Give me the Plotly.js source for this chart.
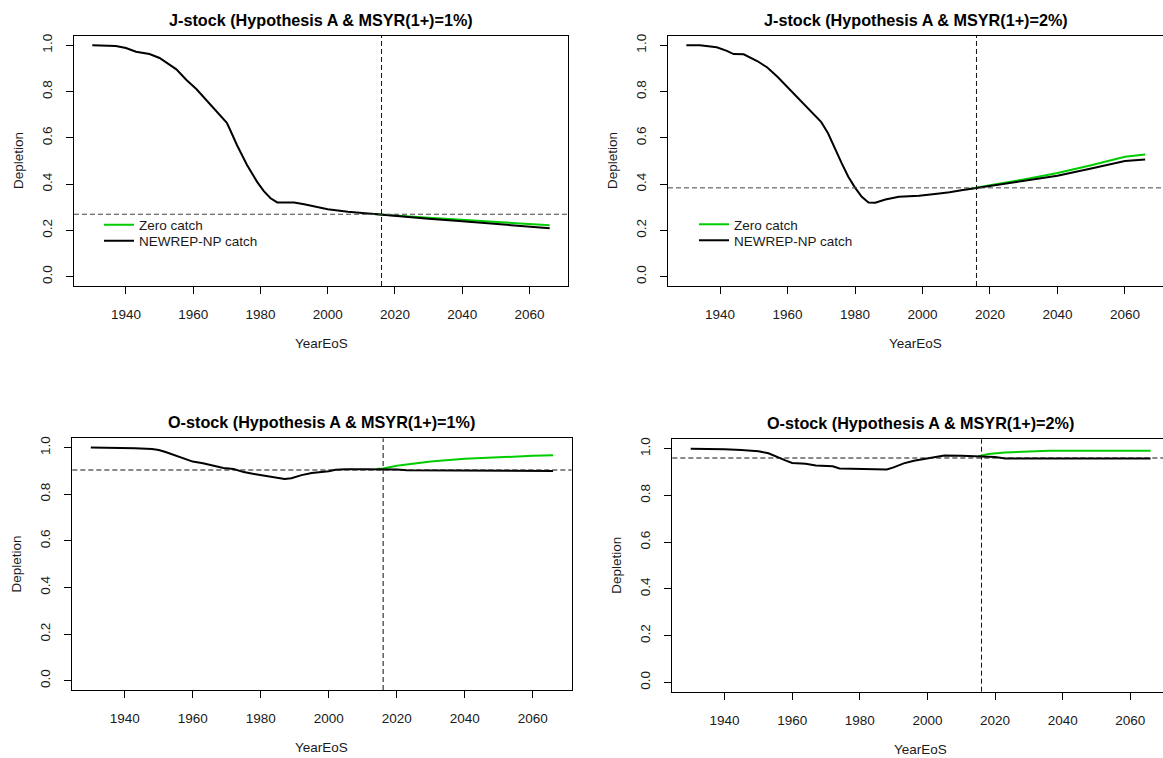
<!DOCTYPE html>
<html>
<head>
<meta charset="utf-8">
<script src="https://cdn.plot.ly/plotly-3.0.1.min.js"></script>
<style>
html,body{margin:0;padding:0;overflow:hidden;background:#fff;}
#chart{width:1170px;height:758px;}
</style>
</head>
<body>
<div id="chart"></div>
<script>
// ---------- data ----------
const panelTitles = [
  "J-stock (Hypothesis A & MSYR(1+)=1%)",
  "J-stock (Hypothesis A & MSYR(1+)=2%)",
  "O-stock (Hypothesis A & MSYR(1+)=1%)",
  "O-stock (Hypothesis A & MSYR(1+)=2%)"
];
const seriesNames = ["Zero catch", "NEWREP-NP catch"];
const xTitle = "YearEoS";
const yTitle = "Depletion";
const xTickVals = [1940, 1960, 1980, 2000, 2020, 2040, 2060];
const xTickText = ["1940", "1960", "1980", "2000", "2020", "2040", "2060"];
const yTickVals = [0, 0.2, 0.4, 0.6, 0.8, 1.0];
const yTickText = ["0.0", "0.2", "0.4", "0.6", "0.8", "1.0"];
const refYear = 2016;
const refLevels = [0.27, 0.384, 0.904, 0.96];

// J-stock, MSYR 1%
const j1Years  = [1930,1935,1937,1940,1943,1947,1950,1955,1958,1961,1963,1966,1970,1971,1973,1976,1979,1981,1983,1985,1990,1993,2000,2006,2009,2016,2020,2030,2040,2050,2057,2066];
const j1Newrep = [1.0,1.0,0.997,0.988,0.972,0.962,0.945,0.896,0.85,0.81,0.778,0.727,0.665,0.634,0.569,0.483,0.41,0.37,0.339,0.321,0.321,0.313,0.292,0.281,0.277,0.27,0.263,0.25,0.24,0.228,0.219,0.209];
const j1ZeroYears = [2013,2016,2020,2030,2040,2050,2057,2066];
const j1Zero      = [0.272,0.27,0.265,0.255,0.246,0.238,0.232,0.222];

// J-stock, MSYR 2%
const j2Years  = [1930,1934,1939,1942,1944,1947,1951,1954,1957,1960,1962,1963,1966,1968,1970,1972,1974,1976,1978,1980,1982,1984,1986,1989,1993,1999,2005,2008,2012,2016,2020,2030,2035,2040,2050,2060,2066];
const j2Newrep = [1.0,1.0,0.991,0.976,0.962,0.961,0.932,0.904,0.864,0.818,0.789,0.771,0.727,0.694,0.668,0.62,0.553,0.492,0.432,0.385,0.345,0.321,0.32,0.334,0.346,0.35,0.36,0.365,0.375,0.384,0.393,0.415,0.425,0.436,0.468,0.5,0.506];
const j2ZeroYears = [2013,2016,2020,2030,2035,2040,2050,2060,2066];
const j2Zero      = [0.377,0.384,0.395,0.42,0.435,0.448,0.482,0.518,0.528];

// O-stock, MSYR 1%
const o1Years  = [1930,1940,1943,1948,1950,1952,1955,1958,1960,1963,1966,1969,1972,1975,1978,1981,1984,1987,1989,1992,1995,1998,2000,2002,2005,2010,2016,2020,2023,2030,2040,2042,2066];
const o1Newrep = [1.0,1.0,0.997,0.994,0.99,0.981,0.966,0.949,0.94,0.933,0.923,0.913,0.908,0.895,0.887,0.88,0.872,0.865,0.869,0.882,0.891,0.895,0.899,0.905,0.907,0.907,0.907,0.906,0.903,0.903,0.903,0.9,0.9];
const o1ZeroYears = [2014,2016,2020,2025,2030,2040,2050,2060,2066];
const o1Zero      = [0.908,0.91,0.922,0.932,0.94,0.952,0.96,0.965,0.967];

// O-stock, MSYR 2%
const o2Years  = [1930,1935,1940,1945,1950,1953,1956,1958,1960,1964,1967,1972,1974,1980,1983,1988,1990,1993,1996,2000,2003,2005,2010,2015,2020,2023,2066];
const o2Newrep = [1.0,1.0,0.997,0.994,0.989,0.98,0.964,0.95,0.939,0.935,0.928,0.925,0.915,0.914,0.911,0.911,0.92,0.937,0.948,0.959,0.967,0.971,0.97,0.967,0.964,0.958,0.958];
const o2ZeroYears = [2015,2018,2023,2027,2030,2036,2066];
const o2Zero      = [0.967,0.977,0.984,0.987,0.989,0.991,0.991];

// ---------- layout geometry (pixels) ----------
const W = 1170, H = 758;
const boxes = [
  {l: 74,    r: 568,    t: 36,    b: 286},
  {l: 668,   r: 1163.5, t: 36,    b: 286},
  {l: 72.3,  r: 571.6,  t: 438.3, b: 690},
  {l: 672.3, r: 1169,   t: 439.3, b: 691.7}
];
// legend rows (text centre y) for the two top panels
const legendRows = [
  {x: 99,  y: [225, 241]},
  {x: 694, y: [224.5, 240.5]}
];
const FONT = "Liberation Sans, Arial, sans-serif";
const GREEN = "#00cd00";
const BLACK = "#000000";

const panels = [
  {zx: j1ZeroYears, zy: j1Zero, nx: j1Years, ny: j1Newrep},
  {zx: j2ZeroYears, zy: j2Zero, nx: j2Years, ny: j2Newrep},
  {zx: o1ZeroYears, zy: o1Zero, nx: o1Years, ny: o1Newrep},
  {zx: o2ZeroYears, zy: o2Zero, nx: o2Years, ny: o2Newrep}
];

// R-style 4% axis extension
function rRange(lo, hi) { const d = (hi - lo) * 0.04; return [lo - d, hi + d]; }
const allYears = [].concat(j1Years, j2Years, o1Years, o2Years);
const xRange = rRange(Math.min(...allYears), Math.max(...allYears));
const yRange = rRange(0, 1);

const traces = [];
const layout = {
  width: W, height: H,
  margin: {l: 0, r: 0, t: 0, b: 0},
  paper_bgcolor: "#fff", plot_bgcolor: "#fff",
  font: {family: FONT, size: 13.5, color: "#1a1a1a"},
  showlegend: true,
  shapes: [], annotations: []
};

const legendNames = ["legend", "legend2", "legend3", "legend4"];

panels.forEach((p, i) => {
  const n = i === 0 ? "" : String(i + 1);
  const xa = "x" + n, ya = "y" + n;
  const showLeg = i < 2;
  traces.push({
    x: p.zx, y: p.zy, xaxis: xa, yaxis: ya, type: "scatter", mode: "lines",
    name: seriesNames[0], line: {color: GREEN, width: 2},
    showlegend: showLeg, legend: showLeg ? legendNames[i * 2] : "legend", hoverinfo: "skip"
  });
  traces.push({
    x: p.nx, y: p.ny, xaxis: xa, yaxis: ya, type: "scatter", mode: "lines",
    name: seriesNames[1], line: {color: BLACK, width: 2},
    showlegend: showLeg, legend: showLeg ? legendNames[i * 2 + 1] : "legend", hoverinfo: "skip"
  });
  const b = boxes[i];
  const common = {
    showline: true, mirror: true, linecolor: "#000", linewidth: 1,
    ticks: "outside", ticklen: 7, tickwidth: 1, tickcolor: "#000",
    showgrid: false, zeroline: false, fixedrange: true,
    tickfont: {family: FONT, size: 13.5, color: "#1a1a1a"},
    ticklabelstandoff: 9
  };
  layout["xaxis" + n] = Object.assign({}, common, {
    domain: [b.l / W, b.r / W], anchor: ya, range: xRange,
    tickmode: "array", tickvals: xTickVals, ticktext: xTickText
  });
  layout["yaxis" + n] = Object.assign({}, common, {
    domain: [1 - b.b / H, 1 - b.t / H], anchor: xa, range: yRange,
    tickmode: "array", tickvals: yTickVals, ticktext: yTickText, tickangle: -90
  });
  // reference lines
  const hcol = i < 2 ? "#444" : "#111";
  layout.shapes.push({type: "line", xref: xa + " domain", yref: ya, x0: 0, x1: 1,
    y0: refLevels[i], y1: refLevels[i], line: {color: hcol, width: 1, dash: "5px,3px"}});
  layout.shapes.push({type: "line", xref: xa, yref: ya + " domain", x0: refYear, x1: refYear,
    y0: 0, y1: 1, line: {color: "#111", width: 1, dash: "5px,3px"}});
  // titles
  const cx = (b.l + b.r) / 2 / W;
  layout.annotations.push({text: "<b>" + panelTitles[i] + "</b>", xref: "paper", yref: "paper",
    x: cx, y: 1 - (b.t - 16) / H, xanchor: "center", yanchor: "middle", showarrow: false,
    font: {family: FONT, size: 16.2, color: "#000"}});
  layout.annotations.push({text: xTitle, xref: "paper", yref: "paper",
    x: cx, y: 1 - (b.b + 57.5) / H, xanchor: "center", yanchor: "middle", showarrow: false,
    font: {family: FONT, size: 13.5, color: "#1a1a1a"}});
  layout.annotations.push({text: yTitle, xref: "paper", yref: "paper", textangle: -90,
    x: (b.l - 56) / W, y: 1 - (b.t + b.b) / 2 / H, xanchor: "center", yanchor: "middle", showarrow: false,
    font: {family: FONT, size: 13.5, color: "#1a1a1a"}});
});

legendRows.forEach((lr, k) => {
  lr.y.forEach((yc, j) => {
    layout[legendNames[k * 2 + j]] = {
      x: lr.x / W, y: 1 - yc / H, xanchor: "left", yanchor: "middle",
      bgcolor: "rgba(0,0,0,0)", borderwidth: 0,
      font: {family: FONT, size: 13.5, color: "#1a1a1a"}
    };
  });
});

Plotly.newPlot("chart", traces, layout, {displayModeBar: false, staticPlot: true});
</script>
</body>
</html>
